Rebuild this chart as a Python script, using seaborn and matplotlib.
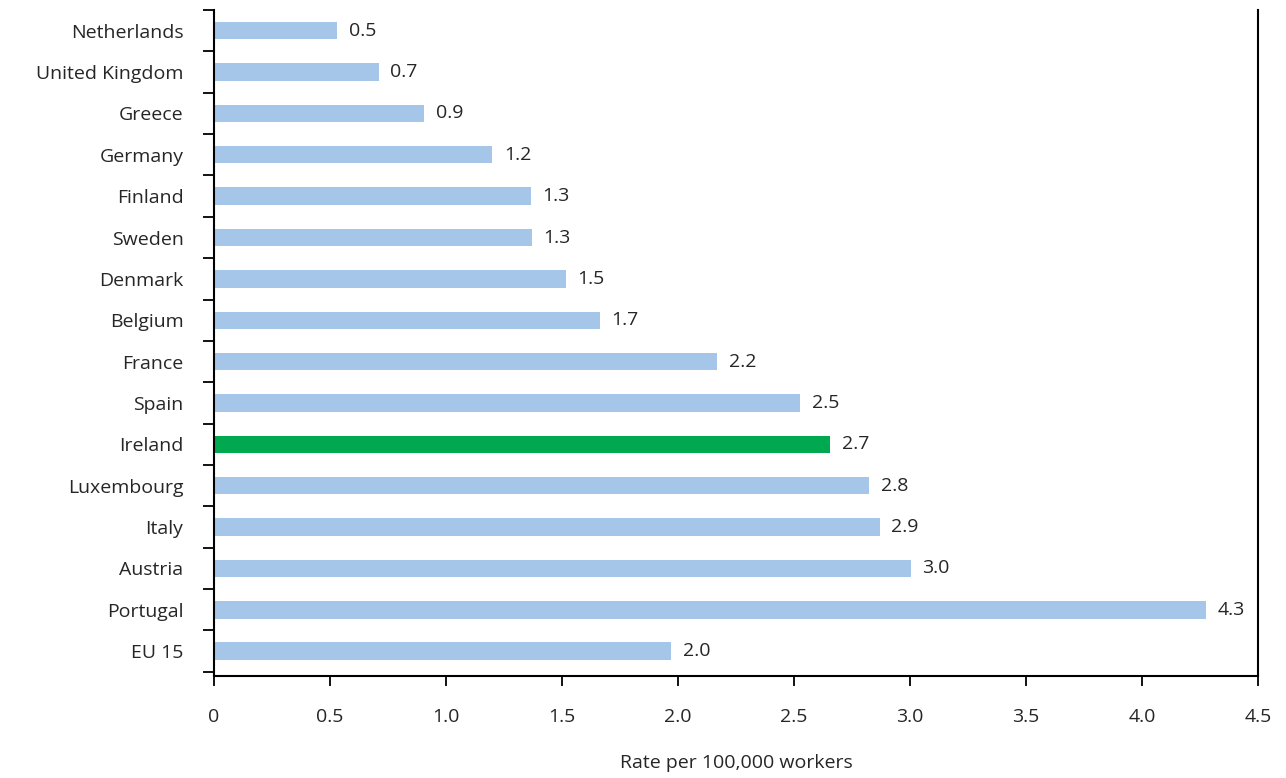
import matplotlib
matplotlib.use("Agg")
import matplotlib.pyplot as plt
import seaborn as sns
import pandas as pd
import numpy as np

countries = ["Netherlands", "United Kingdom", "Greece", "Germany", "Finland", "Sweden",
             "Denmark", "Belgium", "France", "Spain", "Ireland", "Luxembourg", "Italy",
             "Austria", "Portugal", "EU 15"]
values = [0.53, 0.71, 0.905, 1.20, 1.366, 1.37, 1.517, 1.664, 2.17, 2.526, 2.655,
          2.823, 2.87, 3.004, 4.276, 1.97]
labels = ["0.5", "0.7", "0.9", "1.2", "1.3", "1.3", "1.5", "1.7", "2.2", "2.5", "2.7",
          "2.8", "2.9", "3.0", "4.3", "2.0"]
xticks = [0, 0.5, 1.0, 1.5, 2.0, 2.5, 3.0, 3.5, 4.0, 4.5]
xticklabels = ["0", "0.5", "1.0", "1.5", "2.0", "2.5", "3.0", "3.5", "4.0", "4.5"]

sns.set_style("white")
plt.rcParams["font.family"] = ["Open Sans", "DejaVu Sans"]

df = pd.DataFrame({"country": countries, "value": values})
colors = ["#00a84f" if c == "Ireland" else "#a5c6e9" for c in countries]

fig = plt.figure(figsize=(12.86, 7.78), dpi=100)
ax = fig.add_axes([214/1286, 1-676/778, (1258-214)/1286, (676-10)/778])
sns.barplot(data=df, x="value", y="country", hue="country", palette=colors,
            legend=False, width=0.42, ax=ax, saturation=1, linewidth=0)
for i, (v, l) in enumerate(zip(values, labels)):
    ax.text(v + 0.05, i, l, va="center", ha="left", fontsize=14)

ax.set_xlim(0, 4.5)
ax.set_ylim(15.6, -0.45)
ax.set_xticks(xticks)
ax.set_xticklabels(xticklabels, fontsize=14)
ax.set_yticks(np.arange(len(countries)))
ax.set_yticklabels(countries, fontsize=14)
ax.tick_params(axis="y", which="major", left=False, length=0, pad=22)
ax.tick_params(axis="x", bottom=True, direction="out", length=7, width=1.3, color="black", pad=16)
ax.set_yticks(np.arange(-0.5, len(countries) + 0.5, 1), minor=True)
ax.tick_params(axis="y", which="minor", left=True, direction="out", length=8, width=1.3, color="black")
ax.set_xlabel("Rate per 100,000 workers", fontsize=14, labelpad=20)
ax.set_ylabel("")
for s in ["left", "bottom", "right"]:
    ax.spines[s].set_visible(True)
    ax.spines[s].set_color("black")
    ax.spines[s].set_linewidth(1.5)
ax.spines["top"].set_visible(False)
fig.savefig("out.png", dpi=100)
